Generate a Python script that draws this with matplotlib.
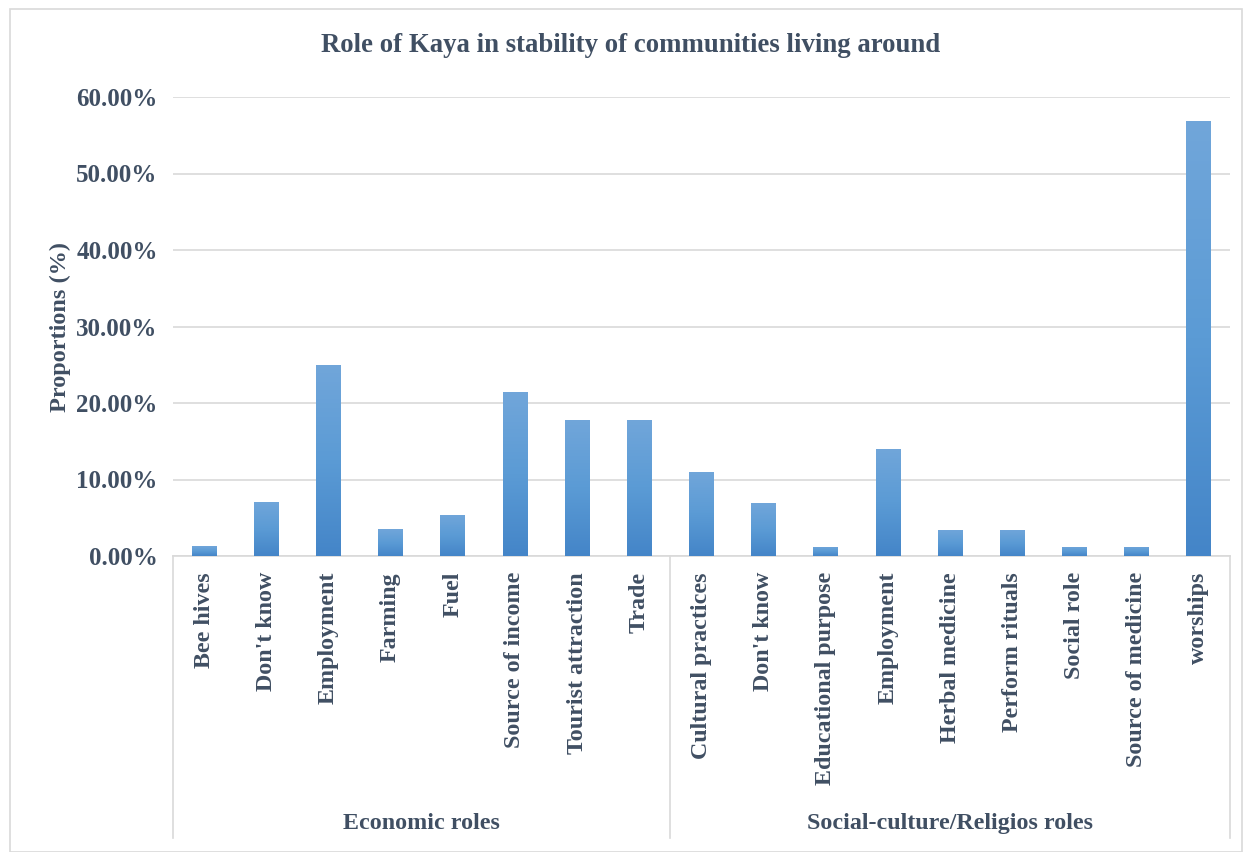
import numpy as np
import matplotlib
matplotlib.use("Agg")
import matplotlib.pyplot as plt
from matplotlib.colors import LinearSegmentedColormap
from matplotlib.patches import Rectangle
import matplotlib.transforms as mtransforms

# data
economic = ["Bee hives", "Don't know", "Employment", "Farming", "Fuel",
            "Source of income", "Tourist attraction", "Trade"]
economic_vals = [0.013, 0.071, 0.250, 0.035, 0.054, 0.214, 0.178, 0.178]
social = ["Cultural practices", "Don't know", "Educational purpose", "Employment",
          "Herbal medicine", "Perform rituals", "Social role", "Source of medicine",
          "worships"]
social_vals = [0.110, 0.069, 0.012, 0.140, 0.034, 0.034, 0.012, 0.012, 0.569]
groups = ["Economic roles", "Social-culture/Religios roles"]
yticks = [0.0, 0.1, 0.2, 0.3, 0.4, 0.5, 0.6]

TXT = "#404F63"
GRID = "#D9D9D9"
SERIF = ["Liberation Serif", "DejaVu Serif"]

labels = economic + social
vals = economic_vals + social_vals
x = np.arange(len(labels))

fig = plt.figure(figsize=(12.45, 8.52), dpi=100)
# outer chart border
fig.patches.append(Rectangle((10 / 1245, 0), 1232 / 1245, 843 / 852,
                             transform=fig.transFigure, fill=False,
                             edgecolor="#D9D9D9", lw=1.2))

ax = fig.add_axes([173 / 1245, 1 - 556 / 852, 1057 / 1245, 459 / 852])

cmap = LinearSegmentedColormap.from_list("xl", ["#4485C8", "#5B9BD5", "#71A6DA"])
bars = ax.bar(x, vals, width=0.4, color="none", edgecolor="none", zorder=3)
grad = np.linspace(0, 1, 256).reshape(-1, 1)
for b in bars:
    x0, y0 = b.get_x(), b.get_y()
    im = ax.imshow(grad, cmap=cmap, origin="lower", aspect="auto",
                   extent=(x0, x0 + b.get_width(), y0, y0 + b.get_height()),
                   zorder=3)
    im.set_clip_path(b)
ax.set_xlim(-0.5, len(labels) - 0.5)
ax.set_ylim(0, 0.6)

ax.set_yticks(yticks)
ax.set_yticklabels([f"{v * 100:.2f}%" for v in yticks], family=SERIF,
                   fontweight="bold", fontsize=18, color=TXT)
ax.yaxis.grid(True, color=GRID, lw=1.2, zorder=0)
ax.tick_params(axis="y", length=0, pad=11)
ax.set_xticks([])
for s in ["top", "right", "left"]:
    ax.spines[s].set_visible(False)
ax.spines["bottom"].set_color(GRID)
ax.spines["bottom"].set_linewidth(1.2)

ax.set_ylabel("Proportions (%)", family=SERIF, fontweight="bold",
              fontsize=17.5, color=TXT, labelpad=4)

fig.text(631 / 1245, 1 - 45 / 852,
         "Role of Kaya in stability of communities living around",
         ha="center", va="center", family=SERIF, fontweight="bold",
         fontsize=19.3, color=TXT)

# category labels
trans = mtransforms.blended_transform_factory(ax.transData, ax.transAxes)
for xi, lab in zip(x, labels):
    ax.text(xi, -0.035, lab, rotation=90, ha="center", va="top", transform=trans,
            family=SERIF, fontweight="bold", fontsize=17.3, color=TXT)

# group separators and labels
n1 = len(economic)
for sx in [-0.5, n1 - 0.5, len(labels) - 0.5]:
    ax.plot([sx, sx], [0, -0.615], transform=trans, color=GRID, lw=1.2,
            clip_on=False)
ax.text((n1 - 1) / 2, -0.5825, groups[0], transform=trans, ha="center",
        va="center", family=SERIF, fontweight="bold", fontsize=17.3, color=TXT)
ax.text((n1 + len(labels) - 1) / 2, -0.5825, groups[1], transform=trans,
        ha="center", va="center", family=SERIF, fontweight="bold", fontsize=17.3,
        color=TXT)

fig.savefig("out.png", dpi=100)
